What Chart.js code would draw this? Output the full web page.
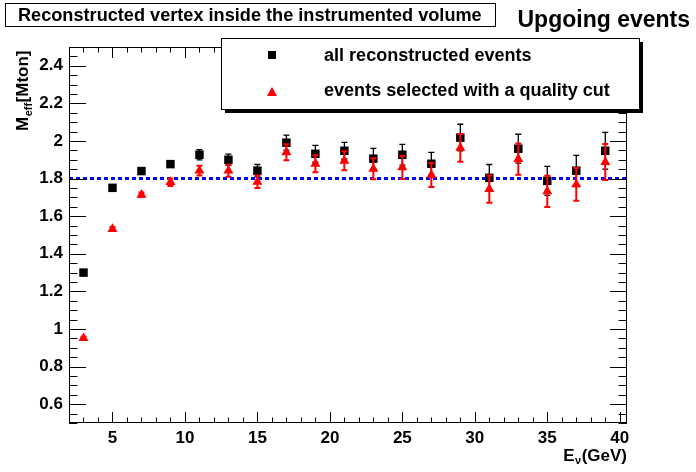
<!DOCTYPE html>
<html>
<head>
<meta charset="utf-8">
<script src="https://cdn.jsdelivr.net/npm/chart.js@4.4.1/dist/chart.umd.min.js"></script>
<style>
    html, body { margin: 0; padding: 0; background: #ffffff; }
    #meffChart { display: block; }
</style>
</head>
<body>
<canvas id="meffChart" width="696" height="472"></canvas>
<script>
// neutrino energy bins (GeV)
var energies = [3, 5, 7, 9, 11, 13, 15, 17, 19, 21, 23, 25, 27, 29, 31, 33, 35, 37, 39];

// all reconstructed events
var allValues = [1.30, 1.751, 1.84, 1.877, 1.927, 1.90, 1.842, 1.991, 1.932, 1.948,
                 1.906, 1.927, 1.879, 2.018, 1.804, 1.959, 1.788, 1.842, 1.948];
var allErrors = [0.008, 0.010, 0.012, 0.015, 0.027, 0.030, 0.033, 0.040, 0.045, 0.045,
                 0.055, 0.055, 0.060, 0.071, 0.071, 0.077, 0.077, 0.082, 0.098];

// events selected with a quality cut
var cutValues = [0.951, 1.532, 1.714, 1.781, 1.842, 1.842, 1.783, 1.94, 1.879, 1.895,
                 1.852, 1.86, 1.819, 1.963, 1.744, 1.904, 1.732, 1.769, 1.888];
var cutErrors = [0.008, 0.010, 0.012, 0.020, 0.026, 0.032, 0.033, 0.043, 0.045, 0.050,
                 0.056, 0.062, 0.064, 0.074, 0.072, 0.083, 0.083, 0.087, 0.096];

// reference level
var refLevel = 1.8;

// axes
var xRange = [2, 40.5];
var yRange = [0.5, 2.5];
var xTickLabels = [5, 10, 15, 20, 25, 30, 35, 40];
var yTickLabels = [0.6, 0.8, 1, 1.2, 1.4, 1.6, 1.8, 2, 2.2, 2.4];
var xMinorStep = 1;
var yMinorStep = 0.05;

var FONT = '"Liberation Sans", Arial, Helvetica, sans-serif';

function toPoints(xs, ys) {
    return xs.map(function(x, i) { return { x: x, y: ys[i] }; });
}

function fitFont(ctx, text, width, weight) {
    ctx.font = weight + ' 100px ' + FONT;
    var size = 100 * width / ctx.measureText(text).width;
    return weight + ' ' + size.toFixed(2) + 'px ' + FONT;
}

// error bars, drawn just before each dataset's markers
var errorBarPlugin = {
    id: 'errorBars',
    beforeDatasetDraw: function(chart, args) {
        var ds = chart.data.datasets[args.index];
        if (!ds.errors) return;
        var ctx = chart.ctx;
        var yScale = chart.scales.y;
        ctx.save();
        ctx.strokeStyle = ds.errorColor;
        ctx.lineWidth = ds.errorWidth;
        args.meta.data.forEach(function(pt, i) {
            var v = ds.data[i].y;
            var e = ds.errors[i];
            var yTop = yScale.getPixelForValue(v + e);
            var yBot = yScale.getPixelForValue(v - e);
            ctx.beginPath();
            ctx.moveTo(pt.x, yTop);
            ctx.lineTo(pt.x, yBot);
            ctx.moveTo(pt.x - 3, yTop);
            ctx.lineTo(pt.x + 3, yTop);
            ctx.moveTo(pt.x - 3, yBot);
            ctx.lineTo(pt.x + 3, yBot);
            ctx.stroke();
        });
        ctx.restore();
    }
};

// ROOT style frame with inward ticks, titles, legend
var decorPlugin = {
    id: 'rootDecor',
    beforeDraw: function(chart) {
        var ctx = chart.ctx;
        ctx.save();
        ctx.fillStyle = '#ffffff';
        ctx.fillRect(0, 0, chart.width, chart.height);
        ctx.restore();
    },
    afterDraw: function(chart) {
        var ctx = chart.ctx;
        var a = chart.chartArea;
        var xs = chart.scales.x;
        var ys = chart.scales.y;
        var xMajLen = 11, xMinLen = 5.5;
        var yMajLen = 17, yMinLen = 8.5;

        ctx.save();
        ctx.strokeStyle = '#000000';
        ctx.lineWidth = 1;
        ctx.strokeRect(a.left + 0.5, a.top + 0.5, a.right - a.left - 1, a.bottom - a.top - 1);

        ctx.beginPath();
        // x ticks, bottom and top
        for (var xv = Math.ceil(xRange[0]); xv <= xRange[1]; xv += xMinorStep) {
            var px = Math.round(xs.getPixelForValue(xv)) + 0.5;
            var len = xTickLabels.indexOf(xv) >= 0 ? xMajLen : xMinLen;
            ctx.moveTo(px, a.bottom);
            ctx.lineTo(px, a.bottom - len);
            ctx.moveTo(px, a.top);
            ctx.lineTo(px, a.top + len);
        }
        // y ticks, left and right
        for (var k = 0; yRange[0] + k * yMinorStep <= yRange[1] + 1e-9; k++) {
            var yv = Math.round((yRange[0] + k * yMinorStep) * 100) / 100;
            var py = Math.round(ys.getPixelForValue(yv)) + 0.5;
            var isMajor = yTickLabels.some(function(t) { return Math.abs(t - yv) < 1e-6; });
            var ylen = isMajor ? yMajLen : yMinLen;
            ctx.moveTo(a.left, py);
            ctx.lineTo(a.left + ylen, py);
            ctx.moveTo(a.right, py);
            ctx.lineTo(a.right - ylen, py);
        }
        ctx.stroke();

        // y title: M_eff[Mton]
        ctx.save();
        ctx.translate(28, 131);
        ctx.rotate(-Math.PI / 2);
        ctx.fillStyle = '#000000';
        ctx.textBaseline = 'alphabetic';
        ctx.textAlign = 'left';
        ctx.font = 'bold 17px ' + FONT;
        ctx.fillText('M', 0, 0);
        var mW = ctx.measureText('M').width;
        ctx.font = 'bold 11px ' + FONT;
        ctx.fillText('eff', mW + 0.5, 4);
        var effW = ctx.measureText('eff').width;
        ctx.font = 'bold 17px ' + FONT;
        ctx.fillText('[Mton]', mW + effW + 1, 0);
        ctx.restore();

        // x title: E_nu(GeV), right aligned with frame
        ctx.fillStyle = '#000000';
        ctx.textBaseline = 'alphabetic';
        ctx.textAlign = 'left';
        ctx.font = 'bold 17px ' + FONT;
        var gevW = ctx.measureText('(GeV)').width;
        var eW = ctx.measureText('E').width;
        ctx.font = 'bold 11px ' + FONT;
        var nuW = ctx.measureText('\u03bd').width;
        var xStart = a.right - gevW - nuW - eW - 1;
        ctx.font = 'bold 17px ' + FONT;
        ctx.fillText('E', xStart, 461);
        ctx.font = 'bold 11px ' + FONT;
        ctx.fillText('\u03bd', xStart + eW + 0.5, 464);
        ctx.font = 'bold 17px ' + FONT;
        ctx.fillText('(GeV)', xStart + eW + nuW + 1, 461);

        // title box
        var title = 'Reconstructed vertex inside the instrumented volume';
        ctx.fillStyle = '#ffffff';
        ctx.fillRect(5, 3, 490, 23);
        ctx.strokeRect(5.5, 3.5, 490, 23);
        ctx.fillStyle = '#000000';
        ctx.font = fitFont(ctx, title, 464, 'bold');
        ctx.textBaseline = 'middle';
        ctx.fillText(title, 18, 15.5);

        // right header
        ctx.textAlign = 'right';
        ctx.textBaseline = 'alphabetic';
        ctx.font = 'bold 23px ' + FONT;
        ctx.fillText('Upgoing events', 690, 27);

        // legend box with shadow
        var lx = 221, ly = 38, lw = 418, lh = 71;
        ctx.fillStyle = '#000000';
        ctx.fillRect(lx + 4, ly + 4, lw, lh);
        ctx.fillStyle = '#ffffff';
        ctx.fillRect(lx, ly, lw, lh);
        ctx.strokeRect(lx + 0.5, ly + 0.5, lw, lh);

        ctx.fillStyle = '#000000';
        ctx.fillRect(268, 51, 8, 8);
        ctx.fillStyle = '#ff0000';
        ctx.beginPath();
        ctx.moveTo(272, 87);
        ctx.lineTo(277, 96);
        ctx.lineTo(267, 96);
        ctx.closePath();
        ctx.fill();

        ctx.fillStyle = '#000000';
        ctx.textAlign = 'left';
        ctx.textBaseline = 'middle';
        ctx.font = fitFont(ctx, 'events selected with a quality cut', 286, 'bold');
        ctx.fillText('all reconstructed events', 324, 56);
        ctx.fillText('events selected with a quality cut', 324, 91);
        ctx.restore();
    }
};

var ctx = document.getElementById('meffChart').getContext('2d');
new Chart(ctx, {
    type: 'scatter',
    data: {
        datasets: [{
            label: 'events selected with a quality cut',
            data: toPoints(energies, cutValues),
            errors: cutErrors,
            errorColor: '#ff0000',
            errorWidth: 2,
            pointStyle: 'triangle',
            pointRadius: 5.8,
            pointBackgroundColor: '#ff0000',
            pointBorderWidth: 0,
            order: 1
        }, {
            label: 'all reconstructed events',
            data: toPoints(energies, allValues),
            errors: allErrors,
            errorColor: '#000000',
            errorWidth: 1.3,
            pointStyle: 'rect',
            pointRadius: 6,
            pointBackgroundColor: '#000000',
            pointBorderWidth: 0,
            order: 2
        }, {
            type: 'line',
            label: 'reference',
            data: [{ x: xRange[0], y: refLevel }, { x: xRange[1], y: refLevel }],
            borderColor: '#0000ff',
            borderWidth: 3,
            borderDash: [4, 3],
            pointRadius: 0,
            fill: false,
            order: 3
        }]
    },
    options: {
        responsive: false,
        devicePixelRatio: 1,
        animation: false,
        layout: {
            padding: { left: 0, right: 69, top: 47, bottom: 0 }
        },
        plugins: {
            legend: { display: false },
            title: { display: false },
            tooltip: { enabled: false }
        },
        scales: {
            x: {
                type: 'linear',
                min: xRange[0],
                max: xRange[1],
                afterFit: function(scale) { scale.height = 49; },
                afterBuildTicks: function(scale) {
                    scale.ticks = xTickLabels.map(function(v) { return { value: v }; });
                },
                grid: { display: false, drawTicks: false },
                border: { display: false },
                ticks: {
                    color: '#000000',
                    padding: 5,
                    maxRotation: 0,
                    autoSkip: false,
                    font: { family: FONT, size: 17, weight: 'bold' }
                }
            },
            y: {
                type: 'linear',
                min: yRange[0],
                max: yRange[1],
                afterFit: function(scale) { scale.width = 69; },
                afterBuildTicks: function(scale) {
                    scale.ticks = yTickLabels.map(function(v) { return { value: v }; });
                },
                grid: { display: false, drawTicks: false },
                border: { display: false },
                ticks: {
                    color: '#000000',
                    padding: 6,
                    autoSkip: false,
                    font: { family: FONT, size: 17, weight: 'bold' },
                    callback: function(value) { return String(value); }
                }
            }
        }
    },
    plugins: [errorBarPlugin, decorPlugin]
});
</script>
</body>
</html>
